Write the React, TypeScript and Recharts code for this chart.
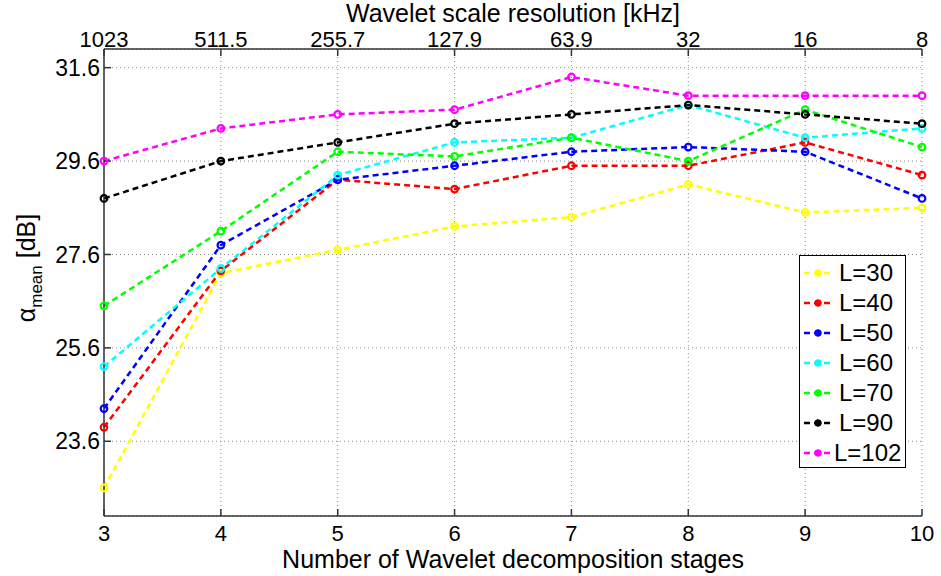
import React from "react";
import {
  LineChart,
  Line,
  XAxis,
  YAxis,
  CartesianGrid,
  Label,
} from "recharts";

const stages = [3, 4, 5, 6, 7, 8, 9, 10];
const kHzLabels = ["1023", "511.5", "255.7", "127.9", "63.9", "32", "16", "8"];
const yTicks = [23.6, 25.6, 27.6, 29.6, 31.6];

const l30 = [22.6, 27.2, 27.7, 28.2, 28.4, 29.1, 28.5, 28.6];
const l40 = [23.9, 27.25, 29.2, 29.0, 29.5, 29.5, 30.0, 29.3];
const l50 = [24.3, 27.8, 29.2, 29.5, 29.8, 29.9, 29.8, 28.8];
const l60 = [25.2, 27.3, 29.3, 30.0, 30.1, 30.8, 30.1, 30.3];
const l70 = [26.5, 28.1, 29.8, 29.7, 30.1, 29.6, 30.7, 29.9];
const l90 = [28.8, 29.6, 30.0, 30.4, 30.6, 30.8, 30.6, 30.4];
const l102 = [29.6, 30.3, 30.6, 30.7, 31.4, 31.0, 31.0, 31.0];

const series = [
  { key: "L=30", values: l30, color: "#ffff00" },
  { key: "L=40", values: l40, color: "#ff0000" },
  { key: "L=50", values: l50, color: "#0000ff" },
  { key: "L=60", values: l60, color: "#00ffff" },
  { key: "L=70", values: l70, color: "#00ff00" },
  { key: "L=90", values: l90, color: "#000000" },
  { key: "L=102", values: l102, color: "#ff00ff" },
];

const data = stages.map((s, i) => {
  const row: { [k: string]: number } = { stage: s };
  series.forEach((ser) => {
    row[ser.key] = ser.values[i];
  });
  return row;
});

const FONT = "'Liberation Sans', Arial, Helvetica, sans-serif";

const YTitle = () => (
  <text
    x={35}
    y={268}
    transform="rotate(-90 35 268)"
    textAnchor="middle"
    fontSize={25}
    fill="#000"
    fontFamily={FONT}
  >
    α
    <tspan fontSize={17} dy={7}>
      mean
    </tspan>
    <tspan dy={-7}> [dB]</tspan>
  </text>
);

const LegendBox = () => (
  <div
    style={{
      position: "absolute",
      left: 799,
      top: 255,
      width: 105,
      height: 211,
      border: "1.5px solid #000",
      background: "#fff",
      fontFamily: FONT,
      fontSize: 24,
      boxSizing: "content-box",
    }}
  >
    {series.map((s, i) => (
      <div
        key={s.key}
        style={{
          position: "absolute",
          left: 0,
          top: 2 + i * 30,
          height: 30,
          width: 105,
        }}
      >
        <svg
          width={30}
          height={30}
          style={{ position: "absolute", left: 3, top: 0 }}
        >
          <line
            x1={1}
            x2={27}
            y1={15}
            y2={15}
            stroke={s.color}
            strokeWidth={2.5}
            strokeDasharray="6 4"
          />
          <circle cx={15} cy={15} r={3.3} fill={s.color} stroke={s.color} />
        </svg>
        <span
          style={{
            position: "absolute",
            left: s.key === "L=102" ? 34 : 39,
            top: 1,
            lineHeight: "28px",
            color: "#000",
          }}
        >
          {s.key}
        </span>
      </div>
    ))}
  </div>
);

export default function App() {
  return (
    <div
      style={{
        position: "absolute",
        left: 0,
        top: 0,
        width: 941,
        height: 576,
        background: "#fff",
      }}
    >
      <LineChart
        width={941}
        height={576}
        data={data}
        margin={{ top: 0, right: 19, left: 0, bottom: 0 }}
        style={{ fontFamily: FONT }}
      >
        <CartesianGrid
          xAxisId="bottom"
          stroke="#8a8a8a"
          strokeDasharray="1 3"
          strokeWidth={1}
        />
        <XAxis
          xAxisId="bottom"
          dataKey="stage"
          type="number"
          domain={[3, 10]}
          ticks={stages}
          height={60}
          stroke="#333"
          strokeWidth={1.5}
          tickSize={-7}
          tickMargin={16}
          tick={{ fontSize: 22, fill: "#000" }}
        >
          <Label
            value="Number of Wavelet decomposition stages"
            position="insideBottom"
            offset={8}
            fontSize={25}
            fill="#000"
          />
        </XAxis>
        <XAxis
          xAxisId="top"
          orientation="top"
          dataKey="stage"
          type="number"
          domain={[3, 10]}
          ticks={stages}
          tickFormatter={(v: number) => kHzLabels[v - 3]}
          height={49}
          stroke="#333"
          strokeWidth={1.5}
          tickSize={-7}
          tickMargin={9}
          tick={{ fontSize: 22, fill: "#000" }}
        >
          <Label
            value="Wavelet scale resolution [kHz]"
            position="insideTop"
            offset={4}
            fontSize={25}
            fill="#000"
          />
        </XAxis>
        <YAxis
          type="number"
          domain={[22, 32]}
          ticks={yTicks}
          allowDataOverflow
          width={104}
          stroke="#333"
          strokeWidth={1.5}
          tickSize={-7}
          tickMargin={11}
          tickFormatter={(v: number) => v.toFixed(1)}
          tick={{ fontSize: 23, fill: "#000" }}
        >
          <Label content={YTitle} />
        </YAxis>
        {series.map((s) => (
          <Line
            key={s.key}
            xAxisId="bottom"
            type="linear"
            dataKey={s.key}
            stroke={s.color}
            strokeWidth={2.5}
            strokeDasharray="6 4"
            dot={{ r: 3.3, fill: "none", stroke: s.color, strokeWidth: 2.2, strokeDasharray: "" }}
            isAnimationActive={false}
          />
        ))}
      </LineChart>
      <LegendBox />
    </div>
  );
}
